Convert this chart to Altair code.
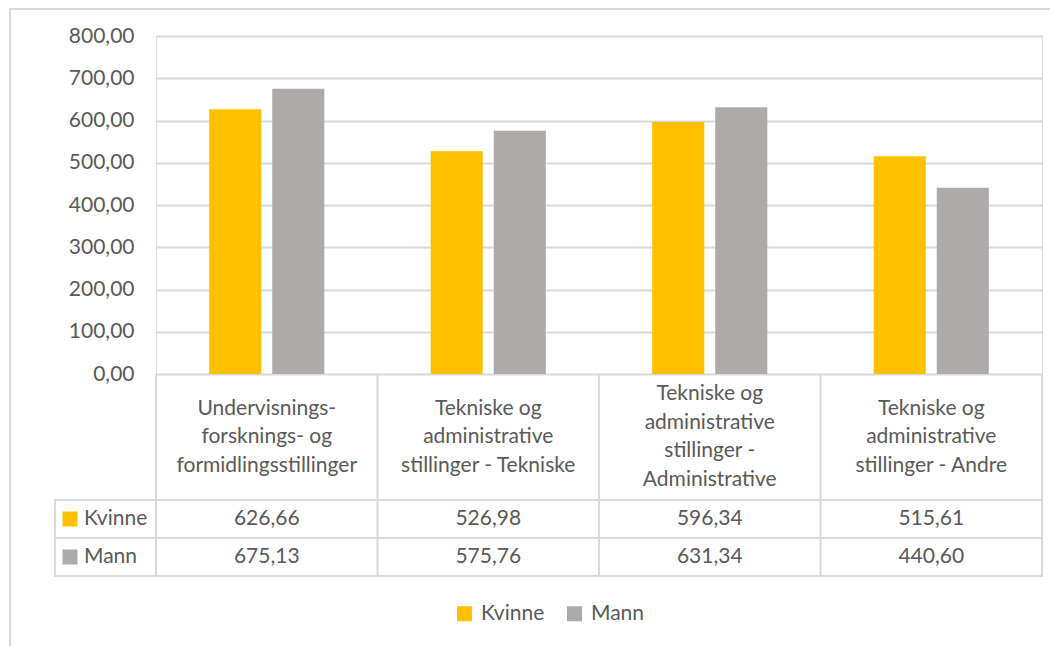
import altair as alt
import pandas as pd

categories = [
    "Undervisnings-\nforsknings- og\nformidlingsstillinger",
    "Tekniske og\nadministrative\nstillinger - Tekniske",
    "Tekniske og\nadministrative\nstillinger -\nAdministrative",
    "Tekniske og\nadministrative\nstillinger - Andre",
]
series = ["Kvinne", "Mann"]
kvinne = [626.66, 526.98, 596.34, 515.61]
mann = [675.13, 575.76, 631.34, 440.60]
colors = ["#FFC000", "#AEAAAA"]
y_ticks = [0, 100, 200, 300, 400, 500, 600, 700, 800]

FONT = "Lato"
TXT = "#595959"
LINE = "#D9D9D9"
FS = 21
LH = 28.5

rows = []
for s, vals in zip(series, [kvinne, mann]):
    for c, v in zip(categories, vals):
        rows.append({"cat": c, "series": s, "value": v})
df = pd.DataFrame(rows)
df_cat = pd.DataFrame({"cat": categories})
one = alt.Data(values=[{"a": 1}])

W, H = 886, 338
row_y = {"Kvinne": 483, "Mann": 521}
header_center = 401

xscale = alt.Scale(domain=categories, paddingInner=0, paddingOuter=0)
xenc = alt.X("cat:N", sort=categories, scale=xscale, axis=None)
cscale = alt.Scale(domain=series, range=colors)

bars = alt.Chart(df).mark_bar().encode(
    x=xenc,
    xOffset=alt.XOffset("series:N", sort=series,
                        scale=alt.Scale(domain=series, paddingInner=0.1746, paddingOuter=0.843)),
    y=alt.Y("value:Q", scale=alt.Scale(domain=[0, 800], nice=False),
            axis=alt.Axis(values=y_ticks, title=None, domain=False, ticks=False,
                          labelPadding=22, labelFontSize=FS, labelFont=FONT, labelColor=TXT,
                          labelExpr="replace(format(datum.value, '.2f'), '.', ',')",
                          gridColor=LINE, gridWidth=2)),
    color=alt.Color("series:N", scale=cscale, sort=series,
                    legend=alt.Legend(orient="none", legendX=298, legendY=567,
                                      direction="horizontal", title=None,
                                      symbolType="square", symbolSize=225,
                                      symbolStrokeWidth=0, symbolOpacity=1,
                                      labelFontSize=FS, labelFont=FONT, labelColor=TXT,
                                      labelOffset=6, columnPadding=19)),
)

layers = [bars]

# category header labels, vertically centred by their number of lines
for n in [3, 4]:
    layers.append(
        alt.Chart(df_cat)
        .transform_filter(f"length(split(datum.cat, '\\n')) == {n}")
        .mark_text(lineBreak="\n", fontSize=FS, font=FONT, color=TXT, lineHeight=LH,
                   baseline="middle", align="center")
        .encode(x=xenc, y=alt.value(header_center - (n - 1) / 2 * LH), text="cat:N")
    )

for s, col in zip(series, colors):
    vals = alt.Chart(df).transform_filter(alt.datum.series == s).transform_calculate(
        label="replace(format(datum.value, '.2f'), '.', ',')"
    ).mark_text(fontSize=FS, font=FONT, color=TXT, baseline="middle", align="center").encode(
        x=xenc, y=alt.value(row_y[s]), text="label:N"
    )
    name = alt.Chart(pd.DataFrame({"series": [s]})).mark_text(
        fontSize=FS, font=FONT, color=TXT, baseline="middle", align="left"
    ).encode(x=alt.value(-72), y=alt.value(row_y[s]), text="series:N")
    sw = alt.Chart(pd.DataFrame({"series": [s]})).mark_point(
        shape="square", filled=True, size=225, opacity=1, strokeWidth=0
    ).encode(x=alt.value(-86), y=alt.value(row_y[s]), color=alt.value(col))
    layers += [vals, name, sw]

# table lines
vlines = alt.Chart(df_cat).mark_rule(color=LINE, strokeWidth=2).encode(
    x=alt.X("cat:N", sort=categories, scale=xscale, axis=None, bandPosition=0),
    y=alt.value(338), y2=alt.value(540),
)
layers.append(vlines)
layers.append(alt.Chart(one).mark_rule(color=LINE, strokeWidth=2).encode(
    x=alt.value(W), y=alt.value(338), y2=alt.value(540)))
layers.append(alt.Chart(one).mark_rule(color=LINE, strokeWidth=2).encode(
    x=alt.value(-101), y=alt.value(464), y2=alt.value(540)))
for yy in [464, 502, 540]:
    layers.append(alt.Chart(one).mark_rule(color=LINE, strokeWidth=2).encode(
        x=alt.value(-102), x2=alt.value(W + 1), y=alt.value(yy)))
# chart frame
layers.append(alt.Chart(one).mark_rule(color=LINE, strokeWidth=2).encode(
    x=alt.value(-146), y=alt.value(-28), y2=alt.value(620)))
layers.append(alt.Chart(one).mark_rule(color=LINE, strokeWidth=2).encode(
    x=alt.value(-147), x2=alt.value(W + 20), y=alt.value(-27)))

chart = alt.layer(*layers).properties(
    width=W, height=H,
    autosize=alt.AutoSizeParams(type="none"),
    padding={"left": 148, "top": 28, "right": 8, "bottom": 272},
).configure_view(stroke=None).configure(background="white")

chart.save("out.html", embed_options={"renderer": "svg", "actions": False})
